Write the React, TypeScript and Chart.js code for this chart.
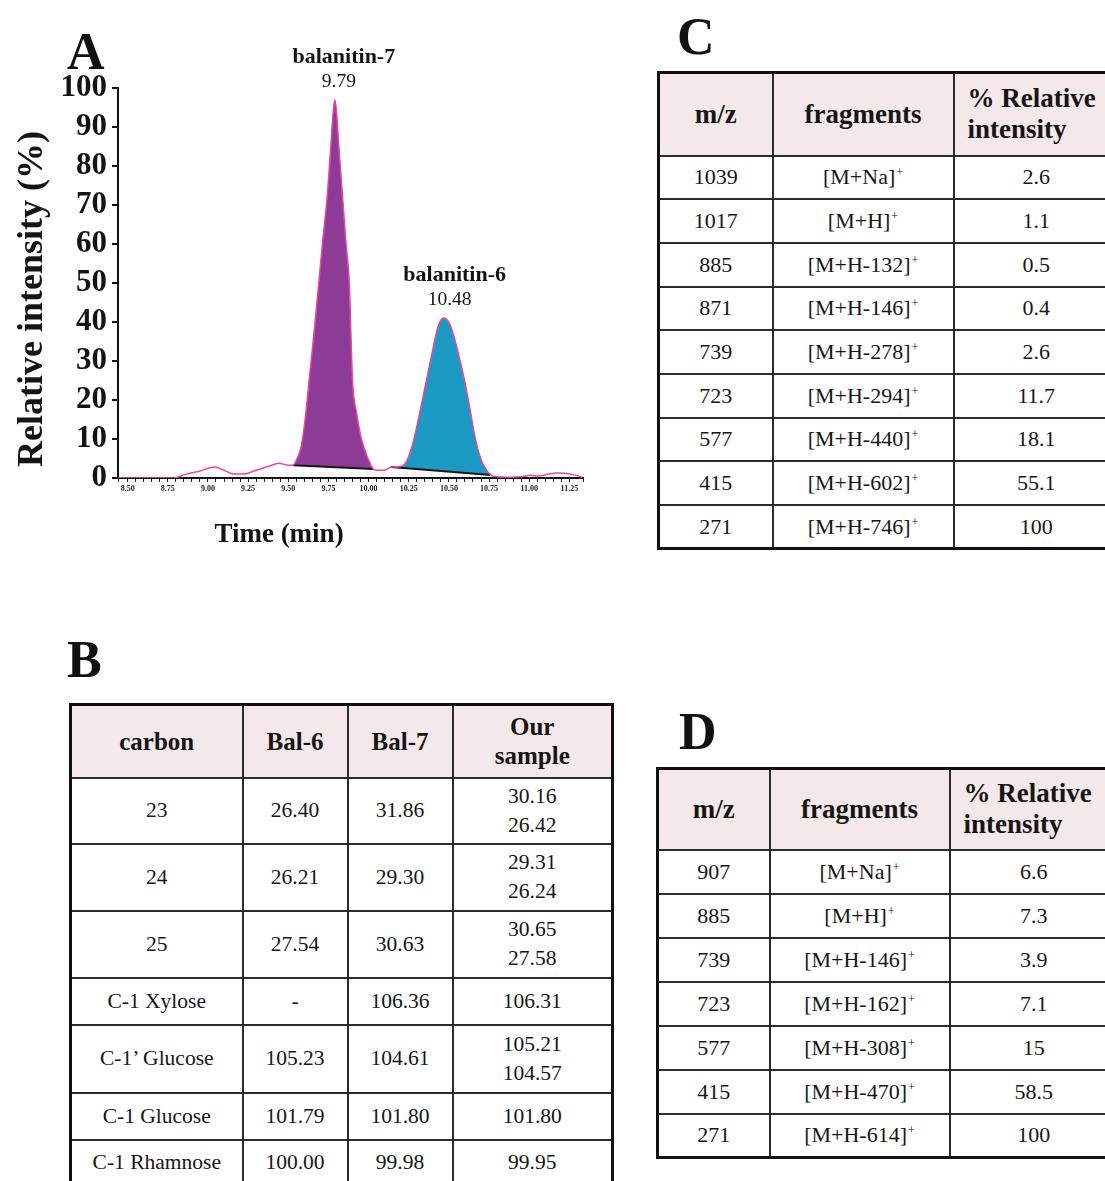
import React, { useEffect, useRef } from 'react';
import { Chart, registerables } from 'chart.js';

Chart.register(...registerables);

// ---------------- Panel A: chromatogram data ----------------
const preTimes = [8.44, 8.79, 8.85, 8.95, 9.04, 9.1, 9.16, 9.22, 9.3, 9.38, 9.44, 9.5];
const preValues = [0, 0, 0.8, 1.8, 2.8, 2.0, 1.0, 1.0, 2.0, 3.0, 3.8, 3.3];

const bal7Times = [9.53, 9.555, 9.58, 9.605, 9.63, 9.66, 9.69, 9.715, 9.74, 9.765, 9.78, 9.79, 9.8, 9.815, 9.84, 9.86, 9.88, 9.89, 9.9, 9.925, 9.95, 9.97, 10.0, 10.03];
const bal7Values = [3.3, 5, 8, 15, 25, 37, 50, 61, 71, 85, 94, 97, 94, 85, 71, 60, 50, 37, 25, 16.7, 11, 8, 4.6, 2.3];

const midTimes = [10.06, 10.1];
const midValues = [2.0, 2.0];

const bal6Times = [10.14, 10.19, 10.23, 10.27, 10.31, 10.34, 10.37, 10.4, 10.43, 10.45, 10.47, 10.49, 10.51, 10.54, 10.57, 10.6, 10.63, 10.66, 10.69, 10.72, 10.76];
const bal6Values = [2.8, 2.9, 3.8, 8, 15, 21, 27, 33, 38.5, 40.5, 41, 40.5, 39, 35, 30, 24.5, 18, 11, 6, 3, 0.8];

const postTimes = [10.8, 10.88, 10.95, 11.01, 11.06, 11.12, 11.17, 11.22, 11.28, 11.33];
const postValues = [0.3, 0.2, 0.3, 0.7, 0.5, 1.0, 1.3, 1.2, 0.8, 0.2];

const bal7BaselineTimes = [9.53, 10.03];
const bal7BaselineValues = [3.3, 2.3];
const bal6BaselineTimes = [10.14, 10.76];
const bal6BaselineValues = [2.8, 0.8];

const peakNames = ['balanitin-7', 'balanitin-6'];
const peakTimes = [9.79, 10.48];
const peakHeights = [97, 41];

const yAxisTitle = 'Relative intensity (%)';
const xAxisTitle = 'Time (min)';

// ---------------- Panel B ----------------
const bHeaders = ['carbon', 'Bal-6', 'Bal-7', 'Our\nsample'];
const bCarbon = ['23', '24', '25', 'C-1 Xylose', 'C-1\u2019 Glucose', 'C-1 Glucose', 'C-1 Rhamnose'];
const bBal6 = ['26.40', '26.21', '27.54', '-', '105.23', '101.79', '100.00'];
const bBal7 = ['31.86', '29.30', '30.63', '106.36', '104.61', '101.80', '99.98'];
const bOurSample = [['30.16', '26.42'], ['29.31', '26.24'], ['30.65', '27.58'], ['106.31'], ['105.21', '104.57'], ['101.80'], ['99.95']];

// ---------------- Panel C ----------------
const cMz = ['1039', '1017', '885', '871', '739', '723', '577', '415', '271'];
const cFragments = ['M+Na', 'M+H', 'M+H-132', 'M+H-146', 'M+H-278', 'M+H-294', 'M+H-440', 'M+H-602', 'M+H-746'];
const cIntensity = ['2.6', '1.1', '0.5', '0.4', '2.6', '11.7', '18.1', '55.1', '100'];

// ---------------- Panel D ----------------
const dMz = ['907', '885', '739', '723', '577', '415', '271'];
const dFragments = ['M+Na', 'M+H', 'M+H-146', 'M+H-162', 'M+H-308', 'M+H-470', 'M+H-614'];
const dIntensity = ['6.6', '7.3', '3.9', '7.1', '15', '58.5', '100'];

const SERIF = '"Liberation Serif", "Times New Roman", Times, serif';

const toPoints = (xs: number[], ys: number[]) => xs.map((x, i) => ({ x, y: ys[i] }));

const textPlugin = {
  id: 'panelText',
  afterDraw(chart: any) {
    const { ctx } = chart;
    const xs = chart.scales.x;
    const ys = chart.scales.y;
    ctx.save();
    ctx.fillStyle = '#141414';
    ctx.textAlign = 'center';
    ctx.textBaseline = 'alphabetic';
    peakNames.forEach((name, i) => {
      const px = xs.getPixelForValue(peakTimes[i]);
      const py = ys.getPixelForValue(peakHeights[i]);
      ctx.font = `bold 22px ${SERIF}`;
      ctx.fillText(name, px + 9, py - 37);
      ctx.font = `19.5px ${SERIF}`;
      ctx.fillText(peakTimes[i].toFixed(2), px + 4, py - 13);
    });
    // axis titles
    ctx.font = `bold 27px ${SERIF}`;
    ctx.textBaseline = 'middle';
    ctx.fillText(xAxisTitle, 279, 535);
    ctx.translate(33, 299);
    ctx.rotate(-Math.PI / 2);
    ctx.font = `bold 36px ${SERIF}`;
    ctx.fillText(yAxisTitle, 0, 0);
    ctx.restore();
  },
};

function ChromatogramChart() {
  const canvasRef = useRef<HTMLCanvasElement>(null);
  useEffect(() => {
    const canvas = canvasRef.current;
    if (!canvas) return;
    const traceTimes = [...preTimes, ...bal7Times, ...midTimes, ...bal6Times, ...postTimes];
    const traceValues = [...preValues, ...bal7Values, ...midValues, ...bal6Values, ...postValues];
    const chart = new Chart(canvas, {
      type: 'line',
      data: {
        datasets: [
          {
            label: 'trace',
            data: toPoints(traceTimes, traceValues),
            borderColor: '#e5489e',
            borderWidth: 1.5,
            pointRadius: 0,
            fill: false,
            cubicInterpolationMode: 'monotone',
            order: 0,
          },
          {
            label: 'balanitin-7',
            data: toPoints(bal7Times, bal7Values),
            borderColor: 'rgba(0,0,0,0)',
            borderWidth: 1,
            backgroundColor: '#8d3b97',
            pointRadius: 0,
            fill: 2,
            cubicInterpolationMode: 'monotone',
            order: 2,
          },
          {
            label: 'balanitin-7 baseline',
            data: toPoints(bal7BaselineTimes, bal7BaselineValues),
            borderColor: '#151515',
            borderWidth: 2,
            pointRadius: 0,
            fill: false,
            order: 1,
          },
          {
            label: 'balanitin-6',
            data: toPoints(bal6Times, bal6Values),
            borderColor: 'rgba(0,0,0,0)',
            borderWidth: 1,
            backgroundColor: '#1b9bc3',
            pointRadius: 0,
            fill: 4,
            cubicInterpolationMode: 'monotone',
            order: 2,
          },
          {
            label: 'balanitin-6 baseline',
            data: toPoints(bal6BaselineTimes, bal6BaselineValues),
            borderColor: '#151515',
            borderWidth: 2,
            pointRadius: 0,
            fill: false,
            order: 1,
          },
        ],
      },
      options: {
        animation: false,
        responsive: false,
        events: [],
        layout: { padding: { top: 88, right: 17, left: 0, bottom: 0 } },
        plugins: {
          legend: { display: false },
          tooltip: { enabled: false },
          title: { display: false },
        },
        scales: {
          x: {
            type: 'linear',
            min: 8.44,
            max: 11.335,
            afterFit: (s: any) => {
              s.height = 82;
            },
            grid: { display: true, drawOnChartArea: false, drawTicks: true, tickLength: 4, color: '#222', lineWidth: 1 },
            border: { display: true, color: '#111', width: 2 },
            ticks: {
              stepSize: 0.05,
              autoSkip: false,
              maxRotation: 0,
              minRotation: 0,
              padding: 2,
              color: '#222',
              font: { family: SERIF, size: 8, weight: 'bold' },
              callback: (v: any) => {
                const n = Number(v);
                return Math.abs(n * 4 - Math.round(n * 4)) < 1e-6 ? n.toFixed(2) : '';
              },
            },
          },
          y: {
            min: 0,
            max: 100,
            afterFit: (s: any) => {
              s.width = 118;
            },
            grid: { display: true, drawOnChartArea: false, drawTicks: true, tickLength: 6, color: '#111', lineWidth: 2 },
            border: { display: true, color: '#111', width: 2 },
            ticks: {
              stepSize: 10,
              autoSkip: false,
              padding: 5,
              color: '#141414',
              font: { family: SERIF, size: 31, weight: 'bold' },
            },
          },
        },
      } as any,
      plugins: [textPlugin],
    });
    return () => chart.destroy();
  }, []);
  return <canvas ref={canvasRef} width={600} height={560} style={{ position: 'absolute', left: 0, top: 0 }} />;
}

const headerBg = '#f4e8ea';
const innerBorder = '2px solid #2b2b2b';
const outerBorder = '3.5px solid #111';

const cell = (extra: React.CSSProperties = {}): React.CSSProperties => ({
  border: innerBorder,
  padding: 0,
  textAlign: 'center',
  verticalAlign: 'middle',
  fontFamily: SERIF,
  color: '#161616',
  ...extra,
});

function Fragment({ f }: { f: string }) {
  return (
    <span>
      [{f}]
      <span style={{ fontSize: 12, position: 'relative', top: -8, marginLeft: 1 }}>+</span>
    </span>
  );
}

function MassTable(props: {
  left: number;
  top: number;
  colWidths: number[];
  headerHeight: number;
  rowHeight: number;
  mz: string[];
  fragments: string[];
  intensity: string[];
}) {
  const { left, top, colWidths, headerHeight, rowHeight, mz, fragments, intensity } = props;
  const total = colWidths.reduce((a, b) => a + b, 0);
  const head = { fontSize: 27, fontWeight: 700, background: headerBg };
  const body = { fontSize: 22, fontWeight: 400 };
  return (
    <table
      style={{
        position: 'absolute',
        left,
        top,
        width: total,
        borderCollapse: 'collapse',
        tableLayout: 'fixed',
        border: outerBorder,
      }}
    >
      <colgroup>
        {colWidths.map((w, i) => (
          <col key={i} style={{ width: w }} />
        ))}
      </colgroup>
      <thead>
        <tr style={{ height: headerHeight }}>
          <th style={cell(head)}>m/z</th>
          <th style={cell(head)}>fragments</th>
          <th style={cell({ ...head, textAlign: 'left', paddingLeft: 13, lineHeight: '31px' })}>
            % Relative
            <br />
            intensity
          </th>
        </tr>
      </thead>
      <tbody>
        {mz.map((m, i) => (
          <tr key={i} style={{ height: rowHeight }}>
            <td style={cell(body)}>{m}</td>
            <td style={cell(body)}>
              <Fragment f={fragments[i]} />
            </td>
            <td style={cell(body)}>{intensity[i]}</td>
          </tr>
        ))}
      </tbody>
    </table>
  );
}

function CarbonTable() {
  const colWidths = [172, 105, 105, 160];
  const rowHeights = [66, 67, 67, 47, 68, 47, 47];
  const head = { fontSize: 25, fontWeight: 700, background: headerBg, lineHeight: '29px' };
  const body = { fontSize: 21.5, fontWeight: 400, lineHeight: '29px' };
  return (
    <table
      style={{
        position: 'absolute',
        left: 69,
        top: 703,
        width: colWidths.reduce((a, b) => a + b, 0),
        borderCollapse: 'collapse',
        tableLayout: 'fixed',
        border: outerBorder,
      }}
    >
      <colgroup>
        {colWidths.map((w, i) => (
          <col key={i} style={{ width: w }} />
        ))}
      </colgroup>
      <thead>
        <tr style={{ height: 73 }}>
          {bHeaders.map((h, i) => (
            <th key={i} style={cell(head)}>
              {h.split('\n').map((line, j) => (
                <div key={j}>{line}</div>
              ))}
            </th>
          ))}
        </tr>
      </thead>
      <tbody>
        {bCarbon.map((c, i) => (
          <tr key={i} style={{ height: rowHeights[i] }}>
            <td style={cell(body)}>{c}</td>
            <td style={cell(body)}>{bBal6[i]}</td>
            <td style={cell(body)}>{bBal7[i]}</td>
            <td style={cell(body)}>
              {bOurSample[i].map((v, j) => (
                <div key={j}>{v}</div>
              ))}
            </td>
          </tr>
        ))}
      </tbody>
    </table>
  );
}

const letterStyle = (left: number, top: number): React.CSSProperties => ({
  position: 'absolute',
  left,
  top,
  fontFamily: SERIF,
  fontWeight: 700,
  fontSize: 52,
  lineHeight: 1,
  color: '#111',
});

export default function App() {
  return (
    <div
      style={{
        position: 'absolute',
        left: 0,
        top: 0,
        width: 1105,
        height: 1181,
        overflow: 'hidden',
        background: '#fff',
        fontFamily: SERIF,
      }}
    >
      <ChromatogramChart />
      <div style={letterStyle(67, 26)}>A</div>
      <div style={letterStyle(677, 11)}>C</div>
      <div style={letterStyle(67, 634)}>B</div>
      <div style={letterStyle(679, 706)}>D</div>
      <MassTable
        left={657}
        top={71}
        colWidths={[114, 181, 166]}
        headerHeight={83}
        rowHeight={43.7}
        mz={cMz}
        fragments={cFragments}
        intensity={cIntensity}
      />
      <CarbonTable />
      <MassTable
        left={656}
        top={767}
        colWidths={[112, 180, 169]}
        headerHeight={81}
        rowHeight={44}
        mz={dMz}
        fragments={dFragments}
        intensity={dIntensity}
      />
    </div>
  );
}
